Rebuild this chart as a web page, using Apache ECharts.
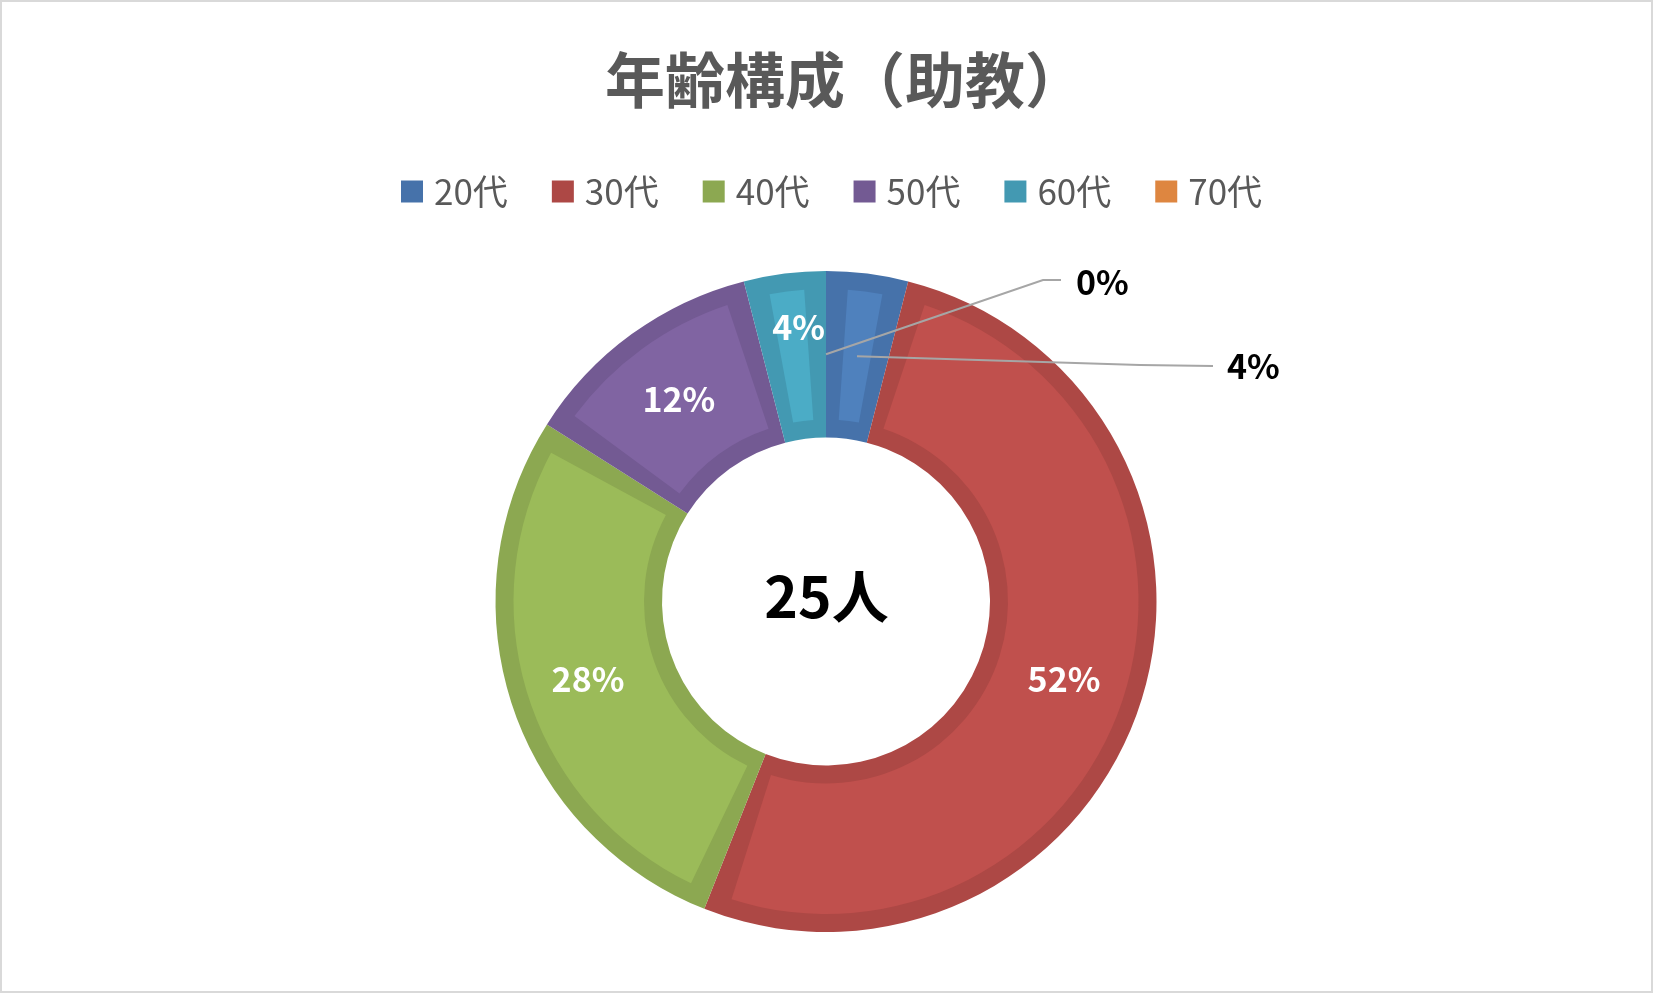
<!DOCTYPE html>
<html>
<head>
<meta charset="utf-8">
<script src="https://cdn.jsdelivr.net/npm/echarts@6/dist/echarts.min.js"></script>
<style>
html,body{margin:0;padding:0;background:#fff;}
#chart{width:1653px;height:993px;}
</style>
</head>
<body>
<div id="chart"></div>
<script>
// ---- data ----
const chartTitle = '年齢構成（助教）';
const categories = ['20代', '30代', '40代', '50代', '60代', '70代'];
const counts = [1, 13, 7, 3, 1, 0];
const totalUnit = '人';
const fillColors = ['#4F81BD', '#C0504D', '#9BBB59', '#8064A2', '#4BACC6', '#F79646'];
const edgeColors = ['#4672AA', '#AD4845', '#8CA851', '#735A93', '#4399B2', '#DE8640'];
const outsideLabelIdx = [0, 5];

// ---- layout ----
const CX = 826, CY = 601.5;
const R_OUT = 330.5, R_IN = 164, EDGE = 18;
const R_MID = (R_OUT + R_IN) / 2;
const outsideAnchors = {
  0: { x: 1227, y: 366.5, bend: [1140, 365], end: [1213, 366] },
  5: { x: 1076, y: 282.5, bend: [1043, 280], end: [1061, 280] }
};

const total = counts.reduce((a, b) => a + b, 0);
function midAngleDeg(i) {
  let cum = 0;
  for (let k = 0; k < i; k++) cum += counts[k];
  return (cum + counts[i] / 2) / total * 360;
}
const isOutside = i => outsideLabelIdx.indexOf(i) >= 0;

const chart = echarts.init(document.getElementById('chart'), null, { renderer: 'canvas' });
const FONT = '"Noto Sans CJK JP", "Noto Sans", sans-serif';

const darkData = categories.map((c, i) => ({
  name: c, value: counts[i], itemStyle: { color: edgeColors[i] }
}));
const lightData = categories.map((c, i) => ({
  name: c,
  value: counts[i] === 0 ? '-' : counts[i],
  itemStyle: { color: fillColors[i] },
  label: { show: !isOutside(i) }
}));
const overlayData = categories.map((c, i) => ({
  name: c, value: counts[i],
  itemStyle: { color: 'rgba(0,0,0,0)' },
  label: { show: isOutside(i) },
  labelLine: { show: isOutside(i) }
}));

chart.setOption({
  backgroundColor: '#ffffff',
  animation: false,
  title: [
    {
      text: chartTitle, left: 600, top: 45,
      textStyle: { fontSize: 60, fontWeight: 'bold', color: '#595959', fontFamily: FONT }
    },
    {
      text: total + totalUnit, left: 'center', top: 563,
      textStyle: { fontSize: 57, fontWeight: 'bold', color: '#000000', fontFamily: FONT }
    }
  ],
  legend: {
    top: 169, left: 396,
    icon: 'rect', itemWidth: 22, itemHeight: 22, itemGap: 44,
    data: categories,
    textStyle: { fontSize: 35, color: '#595959', fontFamily: FONT, padding: [0, 0, 0, 6] }
  },
  graphic: [{
    type: 'rect', silent: true,
    shape: { x: 1, y: 1, width: 1651, height: 991 },
    style: { fill: 'none', stroke: '#D9D9D9', lineWidth: 2 }
  }],
  series: [
    {
      type: 'pie', name: 'edge', z: 1, center: [CX, CY], radius: [R_IN, R_OUT],
      startAngle: 90, clockwise: true, silent: true, avoidLabelOverlap: false,
      label: { show: false }, labelLine: { show: false },
      emphasis: { disabled: true },
      data: darkData
    },
    {
      type: 'pie', name: 'fill', z: 2, center: [CX, CY], radius: [R_IN + EDGE, R_OUT - EDGE],
      startAngle: 90, clockwise: true, padAngle: 8, avoidLabelOverlap: false,
      silent: true, percentPrecision: 0, emphasis: { disabled: true },
      label: {
        show: true, position: 'inside', formatter: '{d}%',
        fontSize: 34, fontWeight: 'bold', color: '#ffffff', fontFamily: FONT
      },
      labelLine: { show: false },
      labelLayout: function (p) {
        if (p.dataIndex === 4) {
          const r = p.labelRect;
          return { x: r.x + r.width / 2 + 4, y: r.y + r.height / 2 - 26 };
        }
        return {};
      },
      data: lightData
    },
    {
      type: 'pie', name: 'labels', z: 3, center: [CX, CY], radius: [R_IN, R_OUT],
      startAngle: 90, clockwise: true, avoidLabelOverlap: false,
      silent: true, percentPrecision: 0, emphasis: { disabled: true },
      label: {
        show: false, position: 'outside', formatter: '{d}%',
        fontSize: 34, fontWeight: 'bold', color: '#000000', fontFamily: FONT
      },
      labelLine: { show: false, lineStyle: { color: '#A6A6A6', width: 2 } },
      labelLayout: function (p) {
        const i = p.dataIndex;
        const a = outsideAnchors[i];
        if (!a) return {};
        const ang = midAngleDeg(i) * Math.PI / 180;
        const start = [CX + R_MID * Math.sin(ang), CY - R_MID * Math.cos(ang)];
        return {
          x: a.x, y: a.y, align: 'left', verticalAlign: 'middle',
          labelLinePoints: [start, a.bend, a.end]
        };
      },
      data: overlayData
    }
  ]
});
</script>
</body>
</html>
